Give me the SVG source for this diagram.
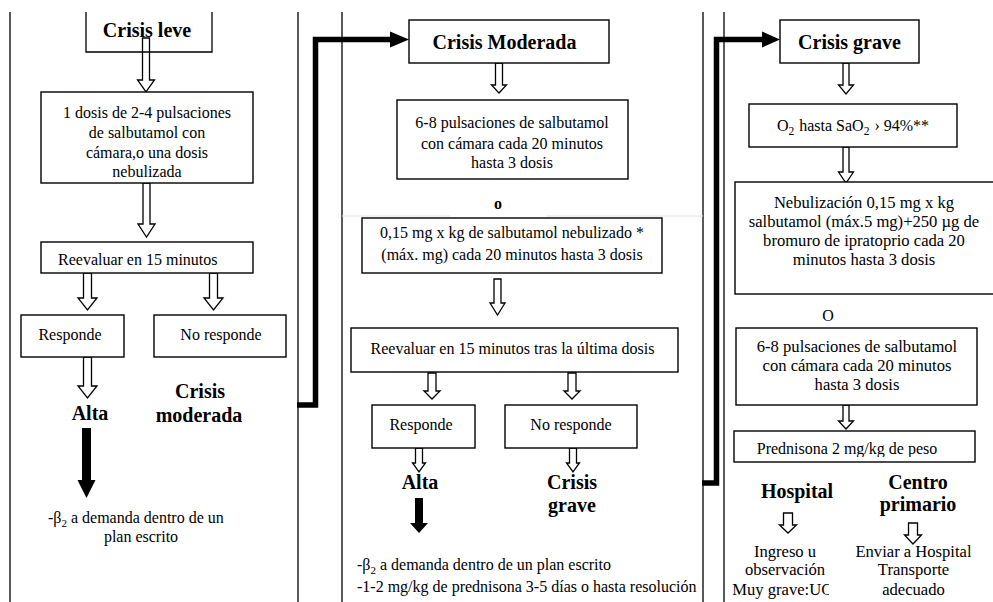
<svg xmlns="http://www.w3.org/2000/svg" width="993" height="602" viewBox="0 0 993 602">
<style>
.bg{fill:#fff}
.box{fill:#fff;stroke:#000;stroke-width:1.4}
.ln{stroke:#000;stroke-width:1.3;fill:none}
.ha{fill:#fff;stroke:#000;stroke-width:1.3;stroke-linejoin:miter}
.sa{fill:#000}
.th{fill:none;stroke:#000;stroke-width:5.5;stroke-linejoin:miter}
text{font-family:"Liberation Serif","Times New Roman",serif;font-size:16px;fill:#000}
.b{font-weight:bold;font-size:20px}
.c{text-anchor:middle}
.r{font-size:16.6px}
</style>
<defs>
<clipPath id="clipMid"><rect x="0" y="0" width="702.5" height="602"/></clipPath>
<clipPath id="clipPred"><rect x="700" y="420" width="293" height="37"/></clipPath>
<clipPath id="clipUci"><rect x="700" y="560" width="129" height="42"/></clipPath>
</defs>
<rect class="bg" x="0" y="0" width="993" height="602"/>

<g id="frame">
<line class="ln" x1="10" y1="12" x2="10" y2="602"/>
<line class="ln" x1="298" y1="12" x2="298" y2="602"/>
<line class="ln" x1="342" y1="12" x2="342" y2="602"/>
<line class="ln" x1="703" y1="12" x2="703" y2="602"/>
<line class="ln" x1="724" y1="12" x2="724" y2="602"/>
<line x1="342" y1="216" x2="450" y2="216" stroke="#e2e2e2" stroke-width="1"/>
<line x1="547" y1="216" x2="703" y2="216" stroke="#e2e2e2" stroke-width="1"/>
</g>

<g id="connectors">
<path class="th" d="M297,405 H315.5 V39.5 H392"/>
<polygon class="sa" points="390,31.5 409,39.5 390,47.5"/>
<path class="th" d="M702,483 H716.5 V39.5 H764"/>
<polygon class="sa" points="762,31.5 780,39.5 762,47.5"/>
<path class="ha" d="M142.5,38 V80 H137.5 L146,92 L154.5,80 H149.5 V38 Z"/>
<path class="ha" d="M143,183 V224 H138 L146.5,237 L155,224 H150 V183 Z"/>
<path class="ha" d="M83.5,273 V298 H78 L87.5,310 L97,298 H91.5 V273 Z"/>
<path class="ha" d="M209.5,273 V298 H204 L213.5,310 L223,298 H217.5 V273 Z"/>
<path class="ha" d="M83.5,357 V386 H78 L87.5,398 L97,386 H91.5 V357 Z"/>
<path class="sa" d="M82,428 H91 V480 H95.5 L86.5,498 L77.5,480 H82 Z"/>
<path class="ha" d="M495.5,63 V85 H491.5 L499,93 L506.5,85 H502.5 V63 Z"/>
<path class="ha" d="M494,279 V303 H490 L497.5,315 L505,303 H501 V279 Z"/>
<path class="ha" d="M428,373 V391 H424 L432,399 L440,391 H436 V373 Z"/>
<path class="ha" d="M568,373 V391 H564 L572,399 L580,391 H576 V373 Z"/>
<path class="ha" d="M415.5,448 V463 H412.5 L419,472 L425.5,463 H422.5 V448 Z"/>
<path class="ha" d="M569.5,448 V463 H566.5 L573,472 L579.5,463 H576.5 V448 Z"/>
<path class="sa" d="M415,498 H423 V523 H428 L419,533 L410,523 H415 Z"/>
<path class="ha" d="M843,63 V85 H838.5 L846,94 L853.5,85 H849 V63 Z"/>
<path class="ha" d="M843,147 V172 H838.5 L846,183 L853.5,172 H849 V147 Z"/>
<path class="ha" d="M843,405 V421 H838.5 L846,429 L853.5,421 H849 V405 Z"/>
<path class="ha" d="M783.5,513 V525 H779.5 L788,533 L796.5,525 H792.5 V513 Z"/>
<path class="ha" d="M908.5,523 V535 H904.5 L913,544 L921.5,535 H917.5 V523 Z"/>
</g>

<!-- Left panel -->
<g id="crisis-leve">
<path class="ln" d="M86,12 V52 H212 V12" stroke-width="1.4"/>
<text class="b c" x="147" y="37">Crisis leve</text>
</g>
<g id="leve-dosis">
<rect class="box" x="41" y="92" width="212" height="91"/>
<text class="c" x="147" y="118">1 dosis de 2-4 pulsaciones</text>
<text class="c" x="147" y="138">de salbutamol con</text>
<text class="c" x="147" y="157.5">cámara,o una dosis</text>
<text class="c" x="147" y="176.5">nebulizada</text>
</g>
<g id="leve-reevaluar">
<rect class="box" x="41" y="242" width="212" height="31"/>
<text x="58" y="265">Reevaluar en 15 minutos</text>
</g>
<g id="leve-responde">
<rect class="box" x="21" y="315" width="103" height="42"/>
<text class="c" x="70" y="340">Responde</text>
</g>
<g id="leve-noresponde">
<rect class="box" x="154" y="315" width="132" height="42"/>
<text class="c" x="221" y="340">No responde</text>
</g>
<g id="leve-alta">
<text class="b c" x="90" y="420">Alta</text>
</g>
<g id="leve-crisis-moderada">
<text class="b c" x="200" y="398">Crisis</text>
<text class="b c" x="199" y="422">moderada</text>
</g>
<g id="leve-nota">
<text x="48" y="523">-β<tspan dy="4" font-size="11">2</tspan><tspan dy="-4" dx="4">a demanda dentro de un</tspan></text>
<text class="c" x="141" y="542">plan escrito</text>
</g>

<!-- Middle panel -->
<g id="crisis-moderada">
<rect class="box" x="409" y="20" width="200" height="43"/>
<text class="b c" x="504.5" y="49">Crisis Moderada</text>
</g>
<g id="mod-pulsaciones">
<rect class="box" x="397" y="100" width="231" height="79"/>
<text class="c" x="512" y="128">6-8 pulsaciones de salbutamol</text>
<text class="c" x="512" y="148.5">con cámara cada 20 minutos</text>
<text class="c" x="512" y="168">hasta 3 dosis</text>
</g>
<g id="mod-o">
<text class="c" x="498" y="209" font-weight="bold" font-size="18">o</text>
</g>
<g id="mod-nebulizado">
<rect class="box" x="362" y="218" width="300" height="55"/>
<text class="c" x="512" y="238">0,15 mg x kg de salbutamol nebulizado *</text>
<text class="c" x="512" y="260">(máx. mg) cada 20 minutos hasta 3 dosis</text>
</g>
<g id="mod-reevaluar">
<rect class="box" x="351" y="328" width="327" height="44"/>
<text class="c" x="512.5" y="354">Reevaluar en 15 minutos tras la última dosis</text>
</g>
<g id="mod-responde">
<rect class="box" x="372" y="405" width="103" height="43"/>
<text class="c" x="421" y="430">Responde</text>
</g>
<g id="mod-noresponde">
<rect class="box" x="505" y="405" width="132" height="43"/>
<text class="c" x="571" y="430">No responde</text>
</g>
<g id="mod-alta">
<text class="b c" x="420" y="489">Alta</text>
</g>
<g id="mod-crisis-grave">
<text class="b c" x="572" y="489">Crisis</text>
<text class="b c" x="572" y="512">grave</text>
</g>
<g id="mod-nota" clip-path="url(#clipMid)">
<text x="357" y="570">-β<tspan dy="4" font-size="11">2</tspan><tspan dy="-4" dx="4">a demanda dentro de un plan escrito</tspan></text>
<text x="357" y="592">-1-2 mg/kg de prednisona 3-5 días o hasta resolución</text>
</g>

<!-- Right panel -->
<g id="crisis-grave">
<rect class="box" x="780" y="20" width="139" height="43"/>
<text class="b c" x="849.5" y="49">Crisis grave</text>
</g>
<g id="grave-o2">
<rect class="box" x="749" y="104" width="208" height="43"/>
<text class="c" x="853" y="131" font-size="17">O<tspan dy="4" font-size="11.5">2</tspan><tspan dy="-4" dx="5">hasta SaO</tspan><tspan dy="4" font-size="11.5">2</tspan><tspan dy="-4" dx="5">› 94%**</tspan></text>
</g>
<g id="grave-nebulizacion">
<rect class="box" x="735" y="182" width="270" height="112"/>
<text class="c r" x="864" y="207.5">Nebulización 0,15 mg x kg</text>
<text class="c r" x="864" y="226.5">salbutamol (máx.5 mg)+250 µg de</text>
<text class="c r" x="864" y="245.5">bromuro de ipratoprio cada 20</text>
<text class="c r" x="864" y="264.5">minutos hasta 3 dosis</text>
</g>
<g id="grave-o">
<text class="c" x="828" y="321" font-size="17">O</text>
</g>
<g id="grave-pulsaciones">
<rect class="box" x="736" y="328" width="241" height="77"/>
<text class="c r" x="857" y="352">6-8 pulsaciones de salbutamol</text>
<text class="c r" x="857" y="371">con cámara cada 20 minutos</text>
<text class="c r" x="857" y="390">hasta 3 dosis</text>
</g>
<g id="grave-prednisona">
<rect class="box" x="734" y="431" width="241" height="31"/>
<text class="c" x="847" y="454" clip-path="url(#clipPred)">Prednisona 2 mg/kg de peso</text>
</g>
<g id="grave-hospital">
<text class="b c" x="797" y="498">Hospital</text>
<text class="c r" x="785" y="557">Ingreso u</text>
<text class="c r" x="785" y="575">observación</text>
<text class="c r" x="785" y="595" clip-path="url(#clipUci)">Muy grave:UCI</text>
</g>
<g id="grave-centro">
<text class="b c" x="918" y="489">Centro</text>
<text class="b c" x="918" y="511">primario</text>
<text class="c r" x="913.5" y="557">Enviar a Hospital</text>
<text class="c r" x="913.5" y="575">Transporte</text>
<text class="c r" x="913.5" y="595">adecuado</text>
</g>
</svg>
